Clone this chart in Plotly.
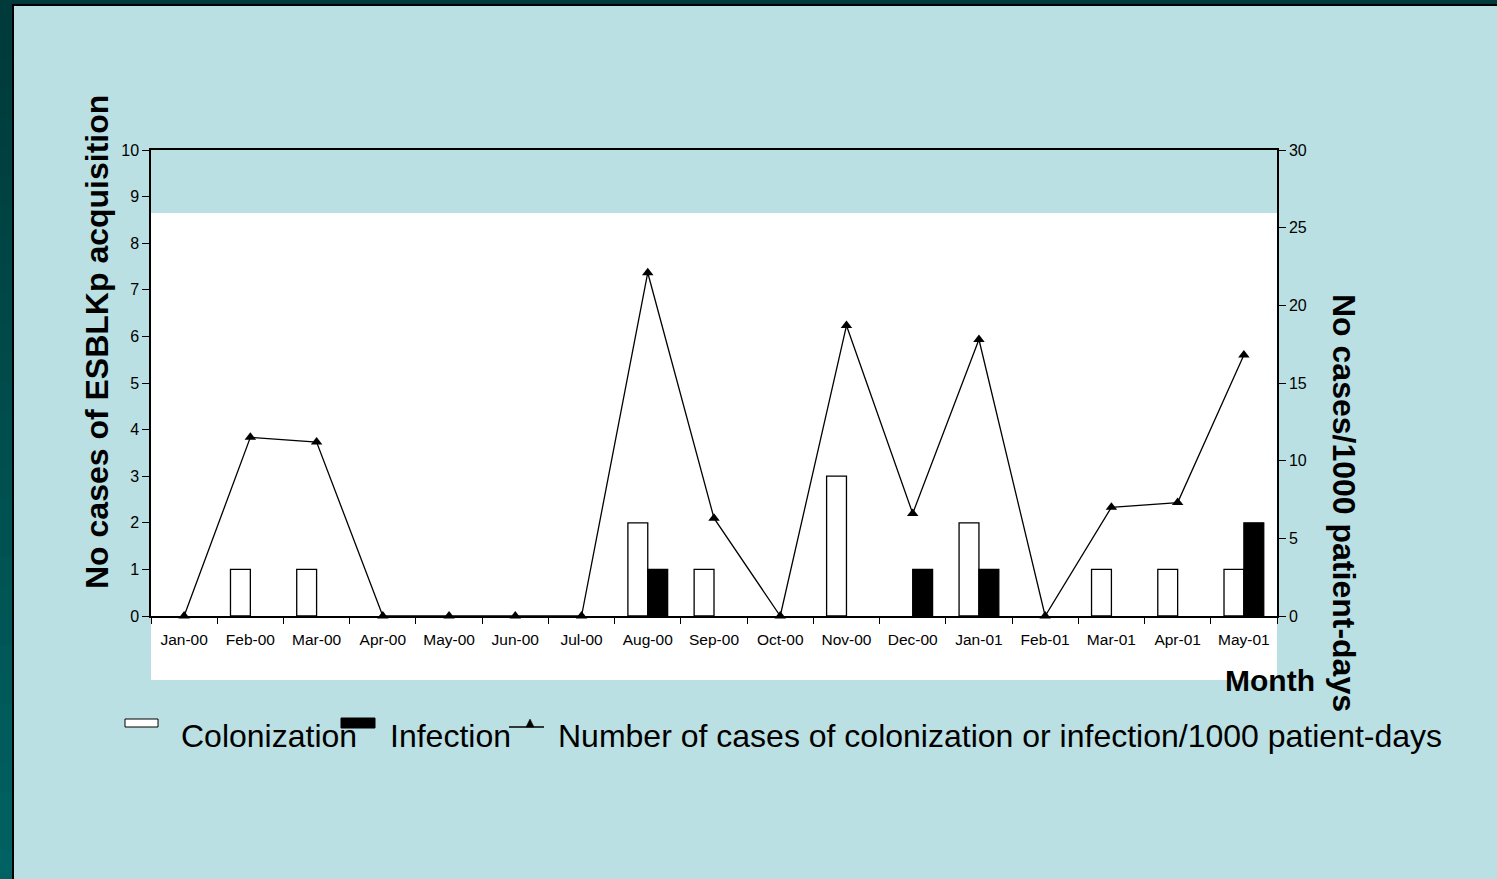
import plotly.graph_objects as go

months = ["Jan-00", "Feb-00", "Mar-00", "Apr-00", "May-00", "Jun-00", "Jul-00", "Aug-00",
          "Sep-00", "Oct-00", "Nov-00", "Dec-00", "Jan-01", "Feb-01", "Mar-01", "Apr-01", "May-01"]
colonization = [0, 1, 1, 0, 0, 0, 0, 2, 1, 0, 3, 0, 2, 0, 1, 1, 1]
infection = [0, 0, 0, 0, 0, 0, 0, 1, 0, 0, 0, 1, 1, 0, 0, 0, 2]
rate = [0, 11.5, 11.2, 0, 0, 0, 0, 22.1, 6.3, 0, 18.7, 6.6, 17.8, 0, 7.0, 7.3, 16.8]

W, H = 1497, 879
L, R, T, B = 151, 1277, 150, 616
FONT = "Arial, 'Liberation Sans', sans-serif"
BG = "#BBE0E3"


def px(x):
    return (x - L) / (R - L)


def py(y):
    return (B - y) / (B - T)


def nz(vals):
    return [v if v else None for v in vals]


fig = go.Figure()
fig.add_trace(go.Bar(x=months, y=nz(colonization), name="Colonization",
                     marker=dict(color="white", line=dict(color="black", width=1.3)),
                     showlegend=False))
fig.add_trace(go.Bar(x=months, y=nz(infection), name="Infection",
                     marker=dict(color="black", line=dict(color="black", width=1.3)),
                     showlegend=False))
fig.add_trace(go.Scatter(x=months, y=rate, yaxis="y2", mode="lines+markers",
                         name="Number of cases of colonization or infection/1000 patient-days",
                         line=dict(color="black", width=1.3),
                         marker=dict(symbol="triangle-up", size=10, color="black"),
                         cliponaxis=False, showlegend=False))

shapes = []
# white panel behind plot
shapes.append(dict(type="rect", xref="paper", yref="paper", x0=px(151), x1=px(1277),
                   y0=py(680), y1=py(213), fillcolor="white", line=dict(width=0), layer="below"))
# dark left border with gradient
n = 30
for i in range(n):
    t = i / (n - 1)
    g = int(0x3A + (0x62 - 0x3A) * t)
    col = f"rgb(0,{g},{g})"
    y0 = i * H / n
    y1 = (i + 1) * H / n + 1
    shapes.append(dict(type="rect", xref="paper", yref="paper", x0=px(0), x1=px(12),
                       y0=py(y1), y1=py(y0), fillcolor=col, line=dict(width=0), layer="below"))
shapes.append(dict(type="rect", xref="paper", yref="paper", x0=px(12), x1=px(W),
                   y0=py(4), y1=py(0), fillcolor="#003A3A", line=dict(width=0), layer="below"))
shapes.append(dict(type="rect", xref="paper", yref="paper", x0=px(12), x1=px(14),
                   y0=py(H), y1=py(4), fillcolor="black", line=dict(width=0), layer="below"))
shapes.append(dict(type="rect", xref="paper", yref="paper", x0=px(12), x1=px(W),
                   y0=py(6), y1=py(4), fillcolor="black", line=dict(width=0), layer="below"))

# legend symbols
shapes.append(dict(type="rect", xref="paper", yref="paper", x0=px(125), x1=px(158),
                   y0=py(727), y1=py(719), fillcolor="white", line=dict(color="black", width=1)))
shapes.append(dict(type="rect", xref="paper", yref="paper", x0=px(341), x1=px(375),
                   y0=py(728), y1=py(718), fillcolor="black", line=dict(color="black", width=1)))
shapes.append(dict(type="line", xref="paper", yref="paper", x0=px(509), x1=px(544),
                   y0=py(727), y1=py(727), line=dict(color="black", width=1.3)))
shapes.append(dict(type="path", xref="paper", yref="paper",
                   path=f"M {px(526)} {py(727)} L {px(534)} {py(727)} L {px(530)} {py(719)} Z",
                   fillcolor="black", line=dict(color="black", width=0.5)))

annotations = [
    dict(text="<b>No cases of ESBLKp acquisition</b>", x=px(97), y=py(342), xref="paper", yref="paper",
         textangle=-90, showarrow=False, xanchor="center", yanchor="middle",
         font=dict(family=FONT, size=32, color="black")),
    dict(text="<b>No cases/1000 patient-days</b>", x=px(1344), y=py(503), xref="paper", yref="paper",
         textangle=90, showarrow=False, xanchor="center", yanchor="middle",
         font=dict(family=FONT, size=32, color="black")),
    dict(text="<b>Month</b>", x=px(1270), y=py(680), xref="paper", yref="paper",
         showarrow=False, xanchor="center", yanchor="middle",
         font=dict(family=FONT, size=30, color="black")),
    dict(text="Colonization", x=px(179), y=py(736), xref="paper", yref="paper",
         showarrow=False, xanchor="left", yanchor="middle",
         font=dict(family=FONT, size=32, color="black")),
    dict(text="Infection", x=px(388), y=py(736), xref="paper", yref="paper",
         showarrow=False, xanchor="left", yanchor="middle",
         font=dict(family=FONT, size=32, color="black")),
    dict(text="Number of cases of colonization or infection/1000 patient-days", x=px(556), y=py(736),
         xref="paper", yref="paper", showarrow=False, xanchor="left", yanchor="middle",
         font=dict(family=FONT, size=32, color="black")),
]

fig.update_layout(
    width=W, height=H,
    margin=dict(l=L, r=W - R, t=T, b=H - B, pad=0),
    paper_bgcolor=BG, plot_bgcolor="rgba(0,0,0,0)",
    barmode="group", bargap=0.4, bargroupgap=0,
    font=dict(family=FONT, size=16, color="black"),
    shapes=shapes, annotations=annotations,
    xaxis=dict(type="category", range=[-0.5, len(months) - 0.5], tickson="boundaries",
               ticks="outside", ticklen=6, ticklabelstandoff=9,
               tickcolor="black", showline=True, linecolor="black", linewidth=1.5,
               mirror=True, showgrid=False, zeroline=False,
               tickfont=dict(family=FONT, size=15.5, color="black")),
    yaxis=dict(range=[0, 10], dtick=1, ticks="outside", ticklen=7, tickcolor="black",
               showline=True, linecolor="black", linewidth=1.5, showgrid=False, zeroline=False,
               tickfont=dict(family=FONT, size=16, color="black")),
    yaxis2=dict(range=[0, 30], dtick=5, overlaying="y", side="right", ticks="outside",
                ticklen=7, tickcolor="black", showline=True, linecolor="black", linewidth=1.5,
                showgrid=False, zeroline=False,
                tickfont=dict(family=FONT, size=16, color="black")),
)

fig.write_html("out.html")
